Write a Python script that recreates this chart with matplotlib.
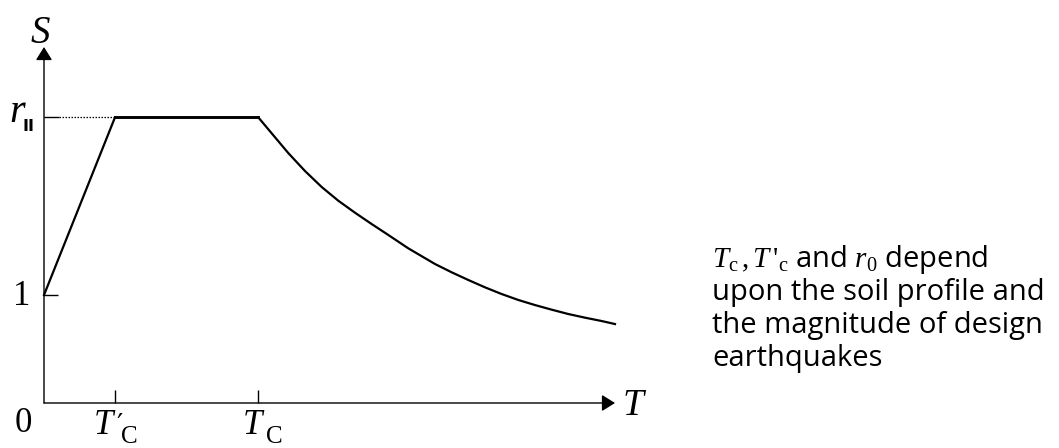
import matplotlib
matplotlib.use("Agg")
import matplotlib.pyplot as plt

# ---- data (normalised units: T'c = 1) ----
T_rise = [0.0, 1.0]            # 0 -> T'c
S_rise = [1.0, 2.645]          # 1 -> r0
T_plateau = [1.0, 3.018]       # T'c -> Tc
S_plateau = [2.645, 2.645]
T_decay = [3.018, 3.207, 3.441, 3.676, 3.911, 4.145, 4.380, 4.615, 4.849, 5.131, 5.507,
           5.742, 5.976, 6.211, 6.446, 6.680, 6.915, 7.151, 7.384, 7.620, 7.855, 8.042]
S_decay = [2.645, 2.497, 2.314, 2.148, 2.000, 1.873, 1.762, 1.657, 1.556, 1.432, 1.287,
           1.210, 1.139, 1.071, 1.009, 0.954, 0.907, 0.864, 0.824, 0.790, 0.759, 0.731]
Tc_prime = 1.0
Tc = 3.018
r0 = 2.645

plt.rcParams['mathtext.fontset'] = 'custom'
plt.rcParams['mathtext.rm'] = 'Liberation Serif'
plt.rcParams['mathtext.it'] = 'Liberation Serif:italic'
plt.rcParams['mathtext.bf'] = 'Liberation Serif:bold'

W, H = 1059, 448
fig = plt.figure(figsize=(W / 100, H / 100), dpi=100)
ax = fig.add_axes([0, 0, 1, 1])
ax.axis('off')
# pixel mapping: T=0 at x=44 px, 71 px per unit; S=0 at y=403 px, 108 px per unit
xu, yu = 71.0, 108.0
ax.set_xlim(-44 / xu, (W - 44) / xu)
ax.set_ylim(-(H - 403) / yu, 403 / yu)

def X(p):      # pixel x -> data
    return (p - 44) / xu

def Y(p):      # pixel y -> data
    return (403 - p) / yu

k = dict(color='black', solid_capstyle='butt')
ap = dict(arrowstyle='-|>,head_length=0.8,head_width=0.5', lw=1.0, color='black',
          shrinkA=0, shrinkB=0)
ax.annotate('', xy=(0, Y(47)), xytext=(0, 0), arrowprops=ap)
ax.annotate('', xy=(X(615), 0), xytext=(0, 0), arrowprops=ap)

# ticks
ax.plot([Tc_prime, Tc_prime], [0, Y(390)], lw=1.0, **k)
ax.plot([Tc, Tc], [0, Y(390)], lw=1.0, **k)
ax.plot([0, X(58)], [1, 1], lw=1.0, **k)
ax.plot([0, X(59)], [r0, r0], lw=1.0, **k)
ax.plot([X(59), Tc_prime], [r0, r0], lw=0.9, color='black', linestyle=(0, (1.2, 1.2)))

# spectrum curve
lw = 1.6
ax.plot(T_rise, S_rise, lw=lw, color='black', solid_joinstyle='miter')
ax.plot(T_plateau, S_plateau, lw=lw + 0.5, color='black')
ax.plot(T_decay, S_decay, lw=lw, color='black', solid_joinstyle='round')

serif = 'Liberation Serif'
ax.text(X(40), Y(43), 'S', fontfamily=serif, style='italic', fontsize=28,
        ha='center', va='baseline')
ax.text(X(9), Y(122), 'r', fontfamily=serif, style='italic', fontsize=29,
        ha='left', va='baseline')
ax.text(X(23), Y(131), 'II', fontfamily='DejaVu Sans', fontweight='bold', fontsize=11.5,
        ha='left', va='baseline')
ax.text(X(22), Y(305), '1', fontfamily=serif, fontsize=25, ha='center', va='baseline')
ax.text(X(23), Y(432), '0', fontfamily=serif, fontsize=25, ha='center', va='baseline')

# T'c and Tc labels
ax.text(X(94), Y(434), 'T', fontfamily=serif, style='italic', fontsize=25, ha='left', va='baseline')
ax.text(X(116), Y(434), '\u2032', fontfamily='DejaVu Serif', fontsize=20, ha='left', va='baseline')
ax.text(X(121), Y(443), 'C', fontfamily=serif, fontsize=18, ha='left', va='baseline')
ax.text(X(243), Y(434), 'T', fontfamily=serif, style='italic', fontsize=25, ha='left', va='baseline')
ax.text(X(266), Y(443), 'C', fontfamily=serif, fontsize=18, ha='left', va='baseline')
ax.text(X(623), Y(415), 'T', fontfamily=serif, style='italic', fontsize=27, ha='left', va='baseline')

sans = 'Open Sans'
lines = [r"$T_{\mathrm{c}}\,, T\,'_{\mathrm{c}}$ and $r_0$ depend",
         "upon the soil profile and",
         "the magnitude of design",
         "earthquakes"]
base = [267, 300, 333, 366]
for s, b in zip(lines, base):
    ax.text(X(712), Y(b), s, fontfamily=sans, fontsize=21, ha='left', va='baseline')

fig.savefig('out.png', dpi=100)
